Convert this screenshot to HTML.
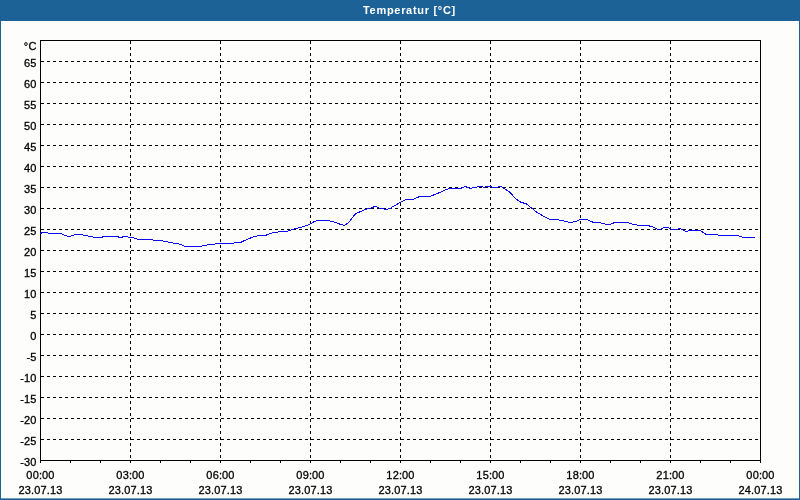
<!DOCTYPE html>
<html><head><meta charset="utf-8"><title>Temperatur</title>
<style>
html,body{margin:0;padding:0;background:#1c6297;}
body{width:800px;height:500px;position:relative;overflow:hidden;font-family:"Liberation Sans",sans-serif;}
#hdr{position:absolute;left:0;top:0;width:800px;height:20px;background:#1c6297;color:#fff;font-weight:bold;font-size:11px;line-height:20px;}
#hdr span{will-change:transform;position:absolute;left:362.5px;top:0;letter-spacing:0.7px;white-space:nowrap;}
#frame{position:absolute;left:1px;top:21px;width:798px;height:477px;background:#fdfefc;}
#soft{position:absolute;left:1px;top:498px;width:798px;height:1px;background:#6e9abb;}
svg{position:absolute;left:0;top:0;will-change:transform;}
svg text{font-family:"Liberation Sans",sans-serif;font-size:11px;fill:#000;stroke:#000;stroke-width:0.3px;letter-spacing:0.15px;}
</style></head><body>
<div id="frame"></div><div id="soft"></div>
<div id="hdr"><span>Temperatur [°C]</span></div>
<svg width="800" height="500" viewBox="0 0 800 500">
<g shape-rendering="crispEdges" stroke="#000" stroke-width="1" fill="none">
<line x1="41" y1="61.5" x2="758" y2="61.5" stroke-dasharray="3,3"/>
<line x1="41" y1="82.5" x2="758" y2="82.5" stroke-dasharray="3,3"/>
<line x1="41" y1="103.5" x2="758" y2="103.5" stroke-dasharray="3,3"/>
<line x1="41" y1="124.5" x2="758" y2="124.5" stroke-dasharray="3,3"/>
<line x1="41" y1="145.5" x2="758" y2="145.5" stroke-dasharray="3,3"/>
<line x1="41" y1="166.5" x2="758" y2="166.5" stroke-dasharray="3,3"/>
<line x1="41" y1="187.5" x2="758" y2="187.5" stroke-dasharray="3,3"/>
<line x1="41" y1="208.5" x2="758" y2="208.5" stroke-dasharray="3,3"/>
<line x1="41" y1="229.5" x2="758" y2="229.5" stroke-dasharray="3,3"/>
<line x1="41" y1="250.5" x2="758" y2="250.5" stroke-dasharray="3,3"/>
<line x1="41" y1="271.5" x2="758" y2="271.5" stroke-dasharray="3,3"/>
<line x1="41" y1="292.5" x2="758" y2="292.5" stroke-dasharray="3,3"/>
<line x1="41" y1="313.5" x2="758" y2="313.5" stroke-dasharray="3,3"/>
<line x1="41" y1="334.5" x2="758" y2="334.5" stroke-dasharray="3,3"/>
<line x1="41" y1="355.5" x2="758" y2="355.5" stroke-dasharray="3,3"/>
<line x1="41" y1="376.5" x2="758" y2="376.5" stroke-dasharray="3,3"/>
<line x1="41" y1="397.5" x2="758" y2="397.5" stroke-dasharray="3,3"/>
<line x1="41" y1="418.5" x2="758" y2="418.5" stroke-dasharray="3,3"/>
<line x1="41" y1="439.5" x2="758" y2="439.5" stroke-dasharray="3,3"/>
<line x1="130.5" y1="41" x2="130.5" y2="460" stroke-dasharray="3,3"/>
<line x1="220.5" y1="41" x2="220.5" y2="460" stroke-dasharray="3,3"/>
<line x1="310.5" y1="41" x2="310.5" y2="460" stroke-dasharray="3,3"/>
<line x1="400.5" y1="41" x2="400.5" y2="460" stroke-dasharray="3,3"/>
<line x1="490.5" y1="41" x2="490.5" y2="460" stroke-dasharray="3,3"/>
<line x1="580.5" y1="41" x2="580.5" y2="460" stroke-dasharray="3,3"/>
<line x1="670.5" y1="41" x2="670.5" y2="460" stroke-dasharray="3,3"/>
<rect x="40.5" y="40.5" width="720" height="420"/>
<line x1="40.5" y1="461" x2="40.5" y2="463"/>
<line x1="70.5" y1="461" x2="70.5" y2="463"/>
<line x1="100.5" y1="461" x2="100.5" y2="463"/>
<line x1="130.5" y1="461" x2="130.5" y2="463"/>
<line x1="160.5" y1="461" x2="160.5" y2="463"/>
<line x1="190.5" y1="461" x2="190.5" y2="463"/>
<line x1="220.5" y1="461" x2="220.5" y2="463"/>
<line x1="250.5" y1="461" x2="250.5" y2="463"/>
<line x1="280.5" y1="461" x2="280.5" y2="463"/>
<line x1="310.5" y1="461" x2="310.5" y2="463"/>
<line x1="340.5" y1="461" x2="340.5" y2="463"/>
<line x1="370.5" y1="461" x2="370.5" y2="463"/>
<line x1="400.5" y1="461" x2="400.5" y2="463"/>
<line x1="430.5" y1="461" x2="430.5" y2="463"/>
<line x1="460.5" y1="461" x2="460.5" y2="463"/>
<line x1="490.5" y1="461" x2="490.5" y2="463"/>
<line x1="520.5" y1="461" x2="520.5" y2="463"/>
<line x1="550.5" y1="461" x2="550.5" y2="463"/>
<line x1="580.5" y1="461" x2="580.5" y2="463"/>
<line x1="610.5" y1="461" x2="610.5" y2="463"/>
<line x1="640.5" y1="461" x2="640.5" y2="463"/>
<line x1="670.5" y1="461" x2="670.5" y2="463"/>
<line x1="700.5" y1="461" x2="700.5" y2="463"/>
<line x1="730.5" y1="461" x2="730.5" y2="463"/>
<line x1="760.5" y1="461" x2="760.5" y2="463"/>
</g>
<polyline shape-rendering="crispEdges" fill="none" stroke="#0a0af0" stroke-width="1" points="40,233.6 43,232.4 47,232.4 48.4,233.4 61,233.4 65,235.6 70,236.6 75,234.4 82,234.4 84,235.4 88,236 94,237.2 102,237.2 104,236.4 117,236.4 119,237.2 122,237.2 124,236.4 127,236.4 129,237.4 132,237.4 138,239.2 152,239.6 154,240.4 162,240.6 164,241.4 167,241.6 169,242.4 172,242.6 174,243.4 178,243.6 180,244.4 182,244.8 184.4,246.4 200,246.4 206,245.2 212,244.4 220,243.4 232,243.2 241,242.2 248,239 254,236.6 259,235.6 266,235.2 272,233 280,231.6 288,231 296,228.4 304,226.6 310,224 315,221.2 320,220.2 326,220.2 333,221.6 340,224.2 344.4,225.4 348,223 350,221 352,218 356,213.3 360,211.8 365,209.4 370,208.4 375.6,206.2 379,208 386,209.4 390,208.4 394,206 400,202.6 406,199.6 414,199 420,196.4 431,196 440,192.4 449,188.4 461,188.2 465,186.4 470,188.4 478,186.8 482,186.4 484,187.3 489,186 493,187.4 497,187.4 500,186 504,188.4 510,192.4 516,199 521,202.4 526,203.6 532,208.4 537,212.4 544,216.4 550,219.4 557,219.6 564,221 570,222.6 576,221.4 581,219.2 586,219.2 593,222.2 600,222.6 606,224.4 611,224 615,222.4 627,222.4 632,224 638,225.2 648,225.6 653,227 657,229 661,229 665,227.2 668,227.6 672,229.4 677,229.4 679.6,228.4 682,229.4 686,231.4 690,230.4 700,230.4 706,234.4 717,234.4 719,235.4 737,235.4 740,236.4 743,237.4 755,237.4"/>
<g text-anchor="end">
<text x="36.5" y="50">°C</text>
<text x="36.5" y="67">65</text>
<text x="36.5" y="88">60</text>
<text x="36.5" y="109">55</text>
<text x="36.5" y="130">50</text>
<text x="36.5" y="151">45</text>
<text x="36.5" y="172">40</text>
<text x="36.5" y="193">35</text>
<text x="36.5" y="214">30</text>
<text x="36.5" y="235">25</text>
<text x="36.5" y="256">20</text>
<text x="36.5" y="277">15</text>
<text x="36.5" y="298">10</text>
<text x="36.5" y="319">5</text>
<text x="36.5" y="340">0</text>
<text x="36.5" y="361">-5</text>
<text x="36.5" y="382">-10</text>
<text x="36.5" y="403">-15</text>
<text x="36.5" y="424">-20</text>
<text x="36.5" y="445">-25</text>
<text x="36.5" y="466">-30</text>
</g>
<g text-anchor="middle">
<text x="40.5" y="479">00:00</text>
<text x="40.5" y="494">23.07.13</text>
<text x="130.5" y="479">03:00</text>
<text x="130.5" y="494">23.07.13</text>
<text x="220.5" y="479">06:00</text>
<text x="220.5" y="494">23.07.13</text>
<text x="310.5" y="479">09:00</text>
<text x="310.5" y="494">23.07.13</text>
<text x="400.5" y="479">12:00</text>
<text x="400.5" y="494">23.07.13</text>
<text x="490.5" y="479">15:00</text>
<text x="490.5" y="494">23.07.13</text>
<text x="580.5" y="479">18:00</text>
<text x="580.5" y="494">23.07.13</text>
<text x="670.5" y="479">21:00</text>
<text x="670.5" y="494">23.07.13</text>
<text x="760.5" y="479">00:00</text>
<text x="760.5" y="494">24.07.13</text>
</g>
</svg></body></html>
